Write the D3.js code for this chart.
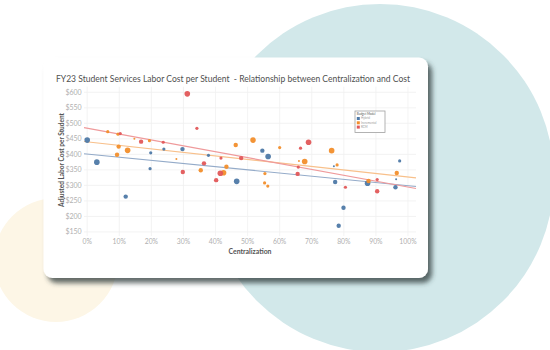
<!DOCTYPE html>
<html>
<head>
<meta charset="utf-8">
<script src="https://cdn.jsdelivr.net/npm/d3@7"></script>
<style>
html,body{margin:0;padding:0;background:#fff;}
svg{display:block;}
text{font-family:Lato,"Open Sans",sans-serif;white-space:pre;}
</style>
</head>
<body>
<svg id="chart" width="550" height="350"></svg>
<script>
// ---------- data ----------
const title = "FY23 Student Services Labor Cost per Student  - Relationship between Centralization and Cost";
const xTitle = "Centralization";
const yTitle = "Adjusted Labor Cost per Student";
const legendTitle = "Budget Model";
const seriesNames = ["Hybrid", "Incremental", "RCM"];
const seriesColors = ["#4e79a7", "#f28e2b", "#e15759"];
const trendColors = ["#94abc9", "#f8c08b", "#ef9a9b"];
const xTicks = [0, 0.1, 0.2, 0.3, 0.4, 0.5, 0.6, 0.7, 0.8, 0.9, 1.0];
const yTicks = [150, 200, 250, 300, 350, 400, 450, 500, 550, 600];

// Hybrid
const hybridX = [0.0, 0.03, 0.12, 0.198, 0.196, 0.239, 0.297, 0.378, 0.466, 0.546, 0.564, 0.769, 0.773, 0.799, 0.784, 0.874, 0.963, 0.961, 0.974];
const hybridY = [446, 375, 264, 405, 354, 417, 417, 397, 313, 412, 393, 362, 311, 228, 170, 307, 320, 294, 379];
const hybridS = [4, 4, 3, 2, 2, 2, 3, 2, 4, 3, 4, 1, 3, 3, 3, 4, 1, 3, 2];
// Incremental
const incrX = [0.064, 0.096, 0.098, 0.093, 0.126, 0.147, 0.194, 0.278, 0.354, 0.425, 0.434, 0.463, 0.517, 0.554, 0.553, 0.563, 0.60, 0.66, 0.678, 0.762, 0.779, 0.877, 0.965];
const incrY = [473, 465, 425, 399, 413, 450, 444, 385, 349, 341, 360, 430, 446, 338, 308, 298, 422, 379, 377, 412, 366, 314, 340];
const incrS = [2, 2, 3, 3, 4, 1, 2, 1, 3, 4, 3, 3, 4, 2, 2, 2, 2, 1, 4, 4, 2, 3, 3];
// RCM
const rcmX = [0.103, 0.168, 0.237, 0.298, 0.312, 0.342, 0.364, 0.402, 0.415, 0.417, 0.48, 0.656, 0.658, 0.665, 0.69, 0.805, 0.904, 0.904];
const rcmY = [467, 441, 439, 343, 595, 484, 371, 317, 339, 388, 388, 337, 359, 420, 439, 294, 319, 281];
const rcmS = [2, 3, 2, 3, 4, 2, 3, 3, 4, 2, 3, 3, 2, 2, 4, 2, 2, 3];

// Trend line values at 0% and 100%
const trendAt0 = [401, 440.4, 484.5];
const trendAt100 = [299, 326.9, 294.7];

// ---------- build ----------
const svg = d3.select("#chart");
const defs = svg.append("defs");
const f = defs.append("filter").attr("id", "shadow").attr("x", "-10%").attr("y", "-10%").attr("width", "125%").attr("height", "130%");
f.append("feDropShadow").attr("dx", 4).attr("dy", 5).attr("stdDeviation", 2.5)
  .attr("flood-color", "#2f3a3a").attr("flood-opacity", 0.75);

// background circles
svg.append("circle").attr("cx", 380).attr("cy", 178).attr("r", 174).attr("fill", "#d2e8ea");
svg.append("circle").attr("cx", 56).attr("cy", 260).attr("r", 62).attr("fill", "#fdf6e6");

// card
svg.append("rect").attr("x", 43.5).attr("y", 57.5).attr("width", 384.5).attr("height", 220.5)
  .attr("rx", 9).attr("fill", "#fff").attr("filter", "url(#shadow)");

// scales
const x = d3.scaleLinear().domain([-0.01, 1.025]).range([84, 416]);
const y = d3.scaleLinear().domain([137, 618]).range([236, 86.7]);

const g = svg.append("g");

// gridlines
g.append("g").selectAll("line").data(yTicks).join("line")
  .attr("x1", x.range()[0]).attr("x2", x.range()[1])
  .attr("y1", d => y(d)).attr("y2", d => y(d))
  .attr("stroke", "#f0f0f0").attr("stroke-width", 0.8);
g.append("g").selectAll("line").data(xTicks).join("line")
  .attr("x1", d => x(d)).attr("x2", d => x(d))
  .attr("y1", y.range()[1]).attr("y2", y.range()[0])
  .attr("stroke", "#f0f0f0").attr("stroke-width", 0.8);

// axes labels
g.append("g").selectAll("text").data(yTicks).join("text")
  .attr("x", 81.7).attr("y", d => y(d)).attr("dy", "0.35em")
  .attr("text-anchor", "end").attr("font-size", 7).attr("fill", "#b0b0b0")
  .text(d => "$" + d);
g.append("g").selectAll("text").data(xTicks).join("text")
  .attr("x", d => x(d)).attr("y", 243.5)
  .attr("text-anchor", "middle").attr("font-size", 6.8).attr("fill", "#b0b0b0")
  .text(d => d3.format(".0%")(d));

// axis titles
g.append("text").attr("x", 250).attr("y", 253.5).attr("text-anchor", "middle")
  .attr("font-size", 7).attr("font-weight", "bold").attr("fill", "#555")
  .attr("textLength", 43).attr("lengthAdjust", "spacingAndGlyphs").text(xTitle);
g.append("text").attr("transform", "translate(64,160) rotate(-90)").attr("text-anchor", "middle")
  .attr("font-size", 6.6).attr("font-weight", "bold").attr("fill", "#555")
  .attr("textLength", 94).attr("lengthAdjust", "spacingAndGlyphs").text(yTitle);

// title
g.append("text").attr("x", 56).attr("y", 81.5).attr("font-size", 8.8).attr("fill", "#505050")
  .attr("textLength", 354).attr("lengthAdjust", "spacingAndGlyphs").text(title);

// trend lines
const dom = x.domain();
seriesNames.forEach((s, i) => {
  const fn = t => trendAt0[i] + (trendAt100[i] - trendAt0[i]) * t;
  g.append("line")
    .attr("x1", x(dom[0])).attr("y1", y(fn(dom[0])))
    .attr("x2", x(dom[1])).attr("y2", y(fn(dom[1])))
    .attr("stroke", trendColors[i]).attr("stroke-width", 1.2);
});

// points
const rScale = d3.scaleLinear().domain([1, 4]).range([1.0, 2.8]);
const sets = [[hybridX, hybridY, hybridS], [incrX, incrY, incrS], [rcmX, rcmY, rcmS]];
sets.forEach(([xs, ys, ss], i) => {
  const pts = xs.map((v, k) => ({x: v, y: ys[k], s: ss[k]}));
  g.append("g").selectAll("circle").data(pts).join("circle")
    .attr("cx", d => x(d.x)).attr("cy", d => y(d.y)).attr("r", d => rScale(d.s))
    .attr("fill", seriesColors[i]).attr("fill-opacity", 0.95);
});

// legend
const lg = g.append("g").attr("transform", "translate(355,111)");
lg.append("rect").attr("width", 30).attr("height", 21.5).attr("fill", "#fff")
  .attr("stroke", "#a0a0a0").attr("stroke-width", 0.8);
lg.append("text").attr("x", 1.8).attr("y", 4.3).attr("font-size", 3).attr("fill", "#555").text(legendTitle);
seriesNames.forEach((s, i) => {
  lg.append("rect").attr("x", 1.8).attr("y", 6 + i * 4.3).attr("width", 3).attr("height", 3).attr("fill", seriesColors[i]);
  lg.append("text").attr("x", 6).attr("y", 8.4 + i * 4.3).attr("font-size", 3).attr("fill", "#999").text(s);
});
</script>
</body>
</html>
